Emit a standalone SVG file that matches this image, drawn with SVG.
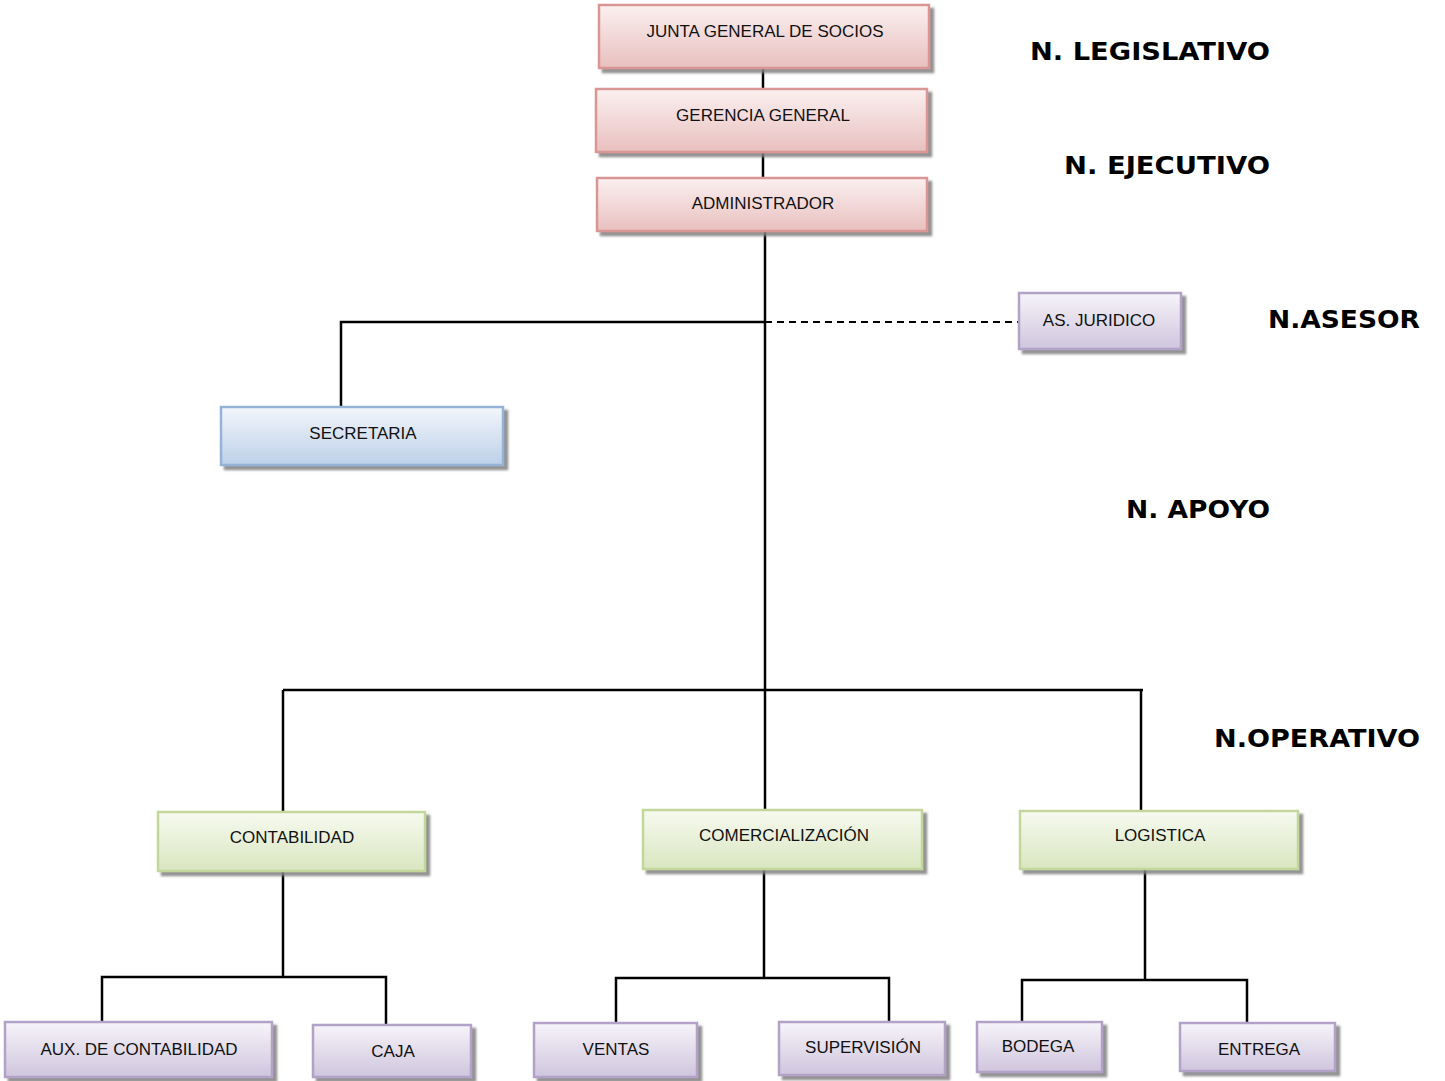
<svg xmlns="http://www.w3.org/2000/svg" width="1445" height="1081" viewBox="0 0 1445 1081">
<defs>
<linearGradient id="gPink" x1="0" y1="0" x2="0" y2="1"><stop offset="0" stop-color="#fbf0f0"/><stop offset="1" stop-color="#e8c0bf"/></linearGradient>
<linearGradient id="gBlue" x1="0" y1="0" x2="0" y2="1"><stop offset="0" stop-color="#f3f6fb"/><stop offset="1" stop-color="#bcd0e8"/></linearGradient>
<linearGradient id="gPurple" x1="0" y1="0" x2="0" y2="1"><stop offset="0" stop-color="#f7f4fa"/><stop offset="1" stop-color="#cfc5dd"/></linearGradient>
<linearGradient id="gGreen" x1="0" y1="0" x2="0" y2="1"><stop offset="0" stop-color="#f7faf0"/><stop offset="1" stop-color="#d9e6c0"/></linearGradient>
<filter id="sh" x="-5%" y="-10%" width="115%" height="130%"><feGaussianBlur in="SourceAlpha" stdDeviation="0.8"/><feOffset dx="4" dy="4" result="o"/><feFlood flood-color="#808080" flood-opacity="0.85"/><feComposite in2="o" operator="in"/><feMerge><feMergeNode/><feMergeNode in="SourceGraphic"/></feMerge></filter>
</defs>
<style>
.box{stroke-width:2.5;filter:url(#sh)}
.pink{fill:url(#gPink);stroke:#d99694}
.blue{fill:url(#gBlue);stroke:#95b3d7}
.purple{fill:url(#gPurple);stroke:#b3a2c7}
.green{fill:url(#gGreen);stroke:#c3d69b}
.t{font-family:"Liberation Sans",Arial,sans-serif;font-size:17px;fill:#111;text-anchor:middle;dominant-baseline:central}
.lvl{font-family:"DejaVu Sans",Verdana,sans-serif;font-weight:bold;font-size:25px;fill:#000;text-anchor:end}
.c{stroke:#000;stroke-width:2.5;fill:none}
.d{stroke:#000;stroke-width:1.8;fill:none;stroke-dasharray:7,5}
</style>
<g id="connectors">
<line class="c" x1="763" y1="68" x2="763" y2="89"/>
<line class="c" x1="763" y1="152" x2="763" y2="178"/>
<line class="c" x1="765" y1="231" x2="765" y2="690"/>
<polyline class="c" points="341,407 341,322 765,322"/>
<line class="d" x1="765" y1="322" x2="1019" y2="322"/>
<line class="c" x1="283" y1="690" x2="1143" y2="690"/>
<line class="c" x1="283" y1="690" x2="283" y2="812"/>
<line class="c" x1="765" y1="690" x2="765" y2="810"/>
<line class="c" x1="1141" y1="690" x2="1141" y2="811"/>
<line class="c" x1="283" y1="872" x2="283" y2="977"/>
<polyline class="c" points="102,1022 102,977 386,977 386,1025"/>
<line class="c" x1="764" y1="870" x2="764" y2="978"/>
<polyline class="c" points="616,1023 616,978 889,978 889,1022"/>
<line class="c" x1="1145" y1="869" x2="1145" y2="980"/>
<polyline class="c" points="1022,1022 1022,980 1247,980 1247,1023"/>
</g>
<g id="junta"><rect class="box pink" x="599" y="5" width="330" height="63"/><text class="t" x="765" y="31">JUNTA GENERAL DE SOCIOS</text></g>
<g id="gerencia"><rect class="box pink" x="596" y="89" width="331" height="63"/><text class="t" x="763" y="115">GERENCIA GENERAL</text></g>
<g id="administrador"><rect class="box pink" x="597" y="178" width="330" height="53"/><text class="t" x="763" y="203">ADMINISTRADOR</text></g>
<g id="secretaria"><rect class="box blue" x="221" y="407" width="282" height="58"/><text class="t" x="363" y="433">SECRETARIA</text></g>
<g id="juridico"><rect class="box purple" x="1019" y="293" width="162" height="56"/><text class="t" x="1099" y="320">AS. JURIDICO</text></g>
<g id="contabilidad"><rect class="box green" x="158" y="812" width="267" height="59"/><text class="t" x="292" y="837">CONTABILIDAD</text></g>
<g id="comercializacion"><rect class="box green" x="643" y="810" width="279" height="59"/><text class="t" x="784" y="835">COMERCIALIZACIÓN</text></g>
<g id="logistica"><rect class="box green" x="1020" y="811" width="278" height="58"/><text class="t" x="1160" y="835">LOGISTICA</text></g>
<g id="aux"><rect class="box purple" x="5" y="1022" width="267" height="55"/><text class="t" x="139" y="1049">AUX. DE CONTABILIDAD</text></g>
<g id="caja"><rect class="box purple" x="313" y="1025" width="158" height="52"/><text class="t" x="393" y="1051">CAJA</text></g>
<g id="ventas"><rect class="box purple" x="534" y="1023" width="163" height="54"/><text class="t" x="616" y="1049">VENTAS</text></g>
<g id="supervision"><rect class="box purple" x="779" y="1022" width="166" height="53"/><text class="t" x="863" y="1047">SUPERVISIÓN</text></g>
<g id="bodega"><rect class="box purple" x="977" y="1022" width="125" height="50"/><text class="t" x="1038" y="1046">BODEGA</text></g>
<g id="entrega"><rect class="box purple" x="1180" y="1023" width="155" height="48"/><text class="t" x="1259" y="1049">ENTREGA</text></g>
<g id="levels">
<text class="lvl" x="1270" y="60" textLength="240" lengthAdjust="spacingAndGlyphs">N. LEGISLATIVO</text>
<text class="lvl" x="1270" y="174" textLength="206" lengthAdjust="spacingAndGlyphs">N. EJECUTIVO</text>
<text class="lvl" x="1420" y="328" textLength="152" lengthAdjust="spacingAndGlyphs">N.ASESOR</text>
<text class="lvl" x="1270" y="518" textLength="144" lengthAdjust="spacingAndGlyphs">N. APOYO</text>
<text class="lvl" x="1420" y="747" textLength="206" lengthAdjust="spacingAndGlyphs">N.OPERATIVO</text>
</g>
</svg>
